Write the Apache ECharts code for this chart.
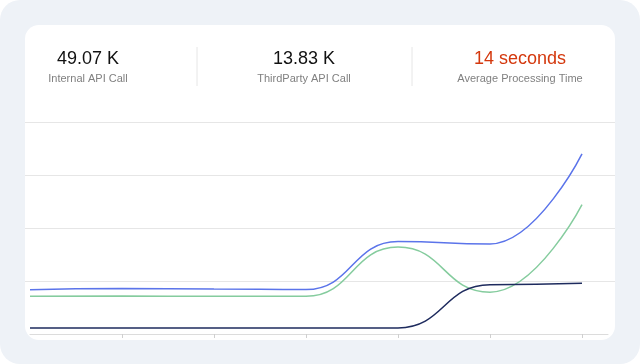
<!DOCTYPE html>
<html>
<head>
<meta charset="utf-8">
<script src="https://cdn.jsdelivr.net/npm/echarts@6/dist/echarts.min.js"></script>
<style>
  html, body { margin: 0; padding: 0; background: #ffffff; }
  #wrap { position: relative; width: 640px; height: 364px; background: #eef2f7; border-radius: 20px; overflow: hidden; }
  #card { position: absolute; left: 25px; top: 25px; width: 590px; height: 315px; background: #ffffff; border-radius: 14px; }
  #chart { position: absolute; left: 0; top: 0; width: 640px; height: 364px; }
</style>
</head>
<body>
<div id="wrap">
  <div id="card"></div>
  <div id="chart"></div>
</div>
<script>
// ---- data ----
const periods = [0, 1, 2, 3, 4, 5, 6];
const internalApi = [0.835, 0.86, 0.85, 0.838, 1.745, 1.70, 3.40];
const thirdPartyApi = [0.71, 0.715, 0.712, 0.71, 1.64, 0.79, 2.44];
const processing = [0.113, 0.113, 0.115, 0.113, 0.115, 0.93, 0.957];
const statValues = ['49.07 K', '13.83 K', '14 seconds'];
const statLabels = ['Internal API Call', 'ThirdParty API Call', 'Average Processing Time'];
const yTicks = [0, 1, 2, 3, 4];

const pair = (arr) => periods.map((p, i) => [p, arr[i]]);

const font = '"Liberation Sans", Arial, sans-serif';
const statCenters = [88, 304, 520];
const statColors = ['#111111', '#111111', '#d4380d'];

const graphics = [];
statValues.forEach((v, i) => {
  graphics.push({
    type: 'text', left: null, x: statCenters[i], y: 59,
    style: { text: v, font: '18px ' + font, fill: statColors[i], textAlign: 'center', textVerticalAlign: 'middle' }
  });
  graphics.push({
    type: 'text', x: statCenters[i], y: 79,
    style: { text: statLabels[i], font: '11px ' + font, fill: '#808080', textAlign: 'center', textVerticalAlign: 'middle' }
  });
});
[197, 412].forEach(x => {
  graphics.push({ type: 'line', shape: { x1: x, y1: 47, x2: x, y2: 86 }, style: { stroke: '#e6e6e6', lineWidth: 1 } });
});

const chart = echarts.init(document.getElementById('chart'), null, { renderer: 'canvas' });
const unit = 92; // px per period
const xMin0 = -5 / unit;
const xMax0 = xMin0 + 590 / unit;
chart.setOption({
  animation: false,
  backgroundColor: 'transparent',
  graphic: graphics,
  grid: [
    { left: 25, right: 25, top: 122, bottom: 30 },
    { left: 30, right: 32, top: 122, bottom: 30 }
  ],
  xAxis: [
    { type: 'value', gridIndex: 0, min: xMin0, max: xMax0, show: false },
    {
      type: 'value', gridIndex: 1, min: 0, max: 578 / unit, interval: 1,
      axisLine: { show: true, lineStyle: { color: '#dcdcdc', width: 1 } },
      axisTick: { show: true, length: 4, customValues: [1, 2, 3, 4, 5, 6], lineStyle: { color: '#cfcfcf' } },
      axisLabel: { show: false },
      splitLine: { show: false }
    }
  ],
  yAxis: [
    {
      type: 'value', gridIndex: 0, min: yTicks[0], max: yTicks[yTicks.length - 1], interval: 1,
      axisLine: { show: false }, axisTick: { show: false }, axisLabel: { show: false },
      splitLine: { show: true, showMinLine: false, lineStyle: { color: '#e6e6e6', width: 1 } }
    },
    { type: 'value', gridIndex: 1, min: 0, max: 4, show: false, splitLine: { show: false } }
  ],
  series: [
    { name: statLabels[0], type: 'line', xAxisIndex: 0, yAxisIndex: 0, data: pair(internalApi), smooth: 0.5, smoothMonotone: 'x', showSymbol: false, lineStyle: { color: '#5b74ea', width: 1.5 } },
    { name: statLabels[1], type: 'line', xAxisIndex: 0, yAxisIndex: 0, data: pair(thirdPartyApi), smooth: 0.5, smoothMonotone: 'x', showSymbol: false, lineStyle: { color: '#85cc9e', width: 1.5 } },
    { name: statLabels[2], type: 'line', xAxisIndex: 0, yAxisIndex: 0, data: pair(processing), smooth: 0.5, smoothMonotone: 'x', showSymbol: false, lineStyle: { color: '#1e2b5e', width: 1.5 } }
  ]
});
</script>
</body>
</html>
